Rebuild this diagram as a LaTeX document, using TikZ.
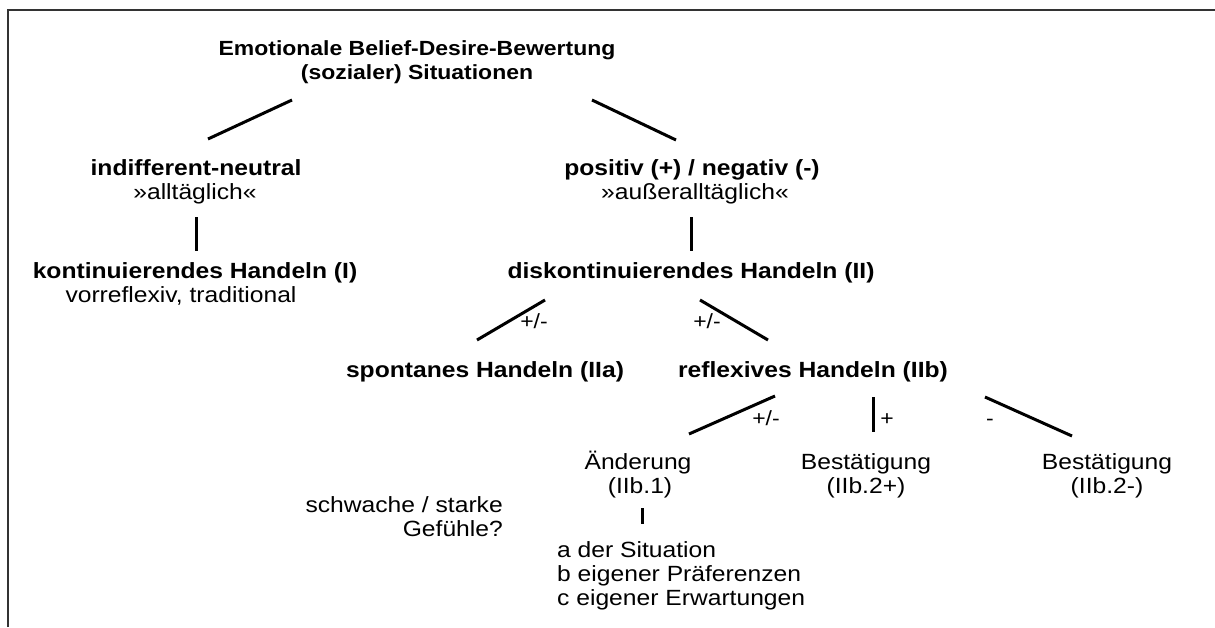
\documentclass[tikz,border=0pt]{standalone}
\usepackage{fontspec}
\setmainfont{Liberation Sans}[FakeStretch=1.12]
\begin{document}
\begin{tikzpicture}[x=1pt,y=-1pt,
  bt/.style={font=\fontsize{22}{24}\selectfont\bfseries, inner sep=0pt, anchor=base},
  tt/.style={font=\fontsize{20.5}{24}\selectfont\bfseries, inner sep=0pt, anchor=base},
  nt/.style={font=\fontsize{22}{24}\selectfont, inner sep=0pt, anchor=base},
  lbl/.style={font=\fontsize{20.5}{22}\selectfont, inner sep=0pt, anchor=base},
  edge/.style={line width=3pt},
  frame/.style={line width=2pt, draw=black!80}]
\useasboundingbox (0,0) rectangle (1215,627);
\draw[frame] (8,627) -- (8,10) -- (1215,10);
% texts
\node[tt] (t1) at (417,55) {Emotionale Belief-Desire-Bewertung};
\node[tt] (t2) at (417,79) {(sozialer) Situationen};
\node[bt] (ind) at (196,175) {indifferent-neutral};
\node[nt] (all) at (195,199) {»alltäglich«};
\node[bt] (kon) at (195,278) {kontinuierendes Handeln (I)};
\node[nt] (vor) at (181,302) {vorreflexiv, traditional};
\node[bt] (pos) at (692,175) {positiv (+) / negativ (-)};
\node[nt] (aus) at (695,199) {»außeralltäglich«};
\node[bt] (dis) at (691,278) {diskontinuierendes Handeln (II)};
\node[bt] (spo) at (485,377) {spontanes Handeln (IIa)};
\node[bt] (ref) at (813,377) {reflexives Handeln (IIb)};
\node[nt] (and) at (638,469) {Änderung};
\node[nt] (and2) at (640,493) {(IIb.1)};
\node[nt] (bp) at (866,469) {Bestätigung};
\node[nt] (bp2) at (866,493) {(IIb.2+)};
\node[nt] (bm) at (1107,469) {Bestätigung};
\node[nt] (bm2) at (1107,493) {(IIb.2-)};
\node[nt, anchor=base east] (sch) at (503,512) {schwache / starke};
\node[nt, anchor=base east] (gef) at (503,536) {Gefühle?};
\node[nt, anchor=base west] (la) at (557,557) {a der Situation};
\node[nt, anchor=base west] (lb) at (557,581) {b eigener Präferenzen};
\node[nt, anchor=base west] (lc) at (557,605) {c eigener Erwartungen};
% labels
\node[lbl] (p1) at (534,328) {+/-};
\node[lbl] (p2) at (707,328) {+/-};
\node[lbl] (p3) at (766,425) {+/-};
\node[lbl] (p4) at (887,425) {+};
\node[lbl] (p5) at (990,425) {-};
% connector ends
\coordinate (a1) at (292,100); \coordinate (a2) at (208,139);
\coordinate (b1) at (592,100); \coordinate (b2) at (676,140);
\coordinate (c1) at (196,217); \coordinate (c2) at (196,251);
\coordinate (d1) at (691,217); \coordinate (d2) at (691,251);
\coordinate (e1) at (545,300); \coordinate (e2) at (477,340);
\coordinate (f1) at (700,300); \coordinate (f2) at (768,340);
\coordinate (g1) at (775,396); \coordinate (g2) at (689,434);
\coordinate (h1) at (873,397); \coordinate (h2) at (873,432);
\coordinate (i1) at (985,397); \coordinate (i2) at (1072,436);
\coordinate (j1) at (642,508); \coordinate (j2) at (642,524);
\draw[edge] (a1) -- (a2);
\draw[edge] (b1) -- (b2);
\draw[edge] (c1) -- (c2);
\draw[edge] (d1) -- (d2);
\draw[edge] (e1) -- (e2);
\draw[edge] (f1) -- (f2);
\draw[edge] (g1) -- (g2);
\draw[edge] (h1) -- (h2);
\draw[edge] (i1) -- (i2);
\draw[edge] (j1) -- (j2);
\end{tikzpicture}
\end{document}
